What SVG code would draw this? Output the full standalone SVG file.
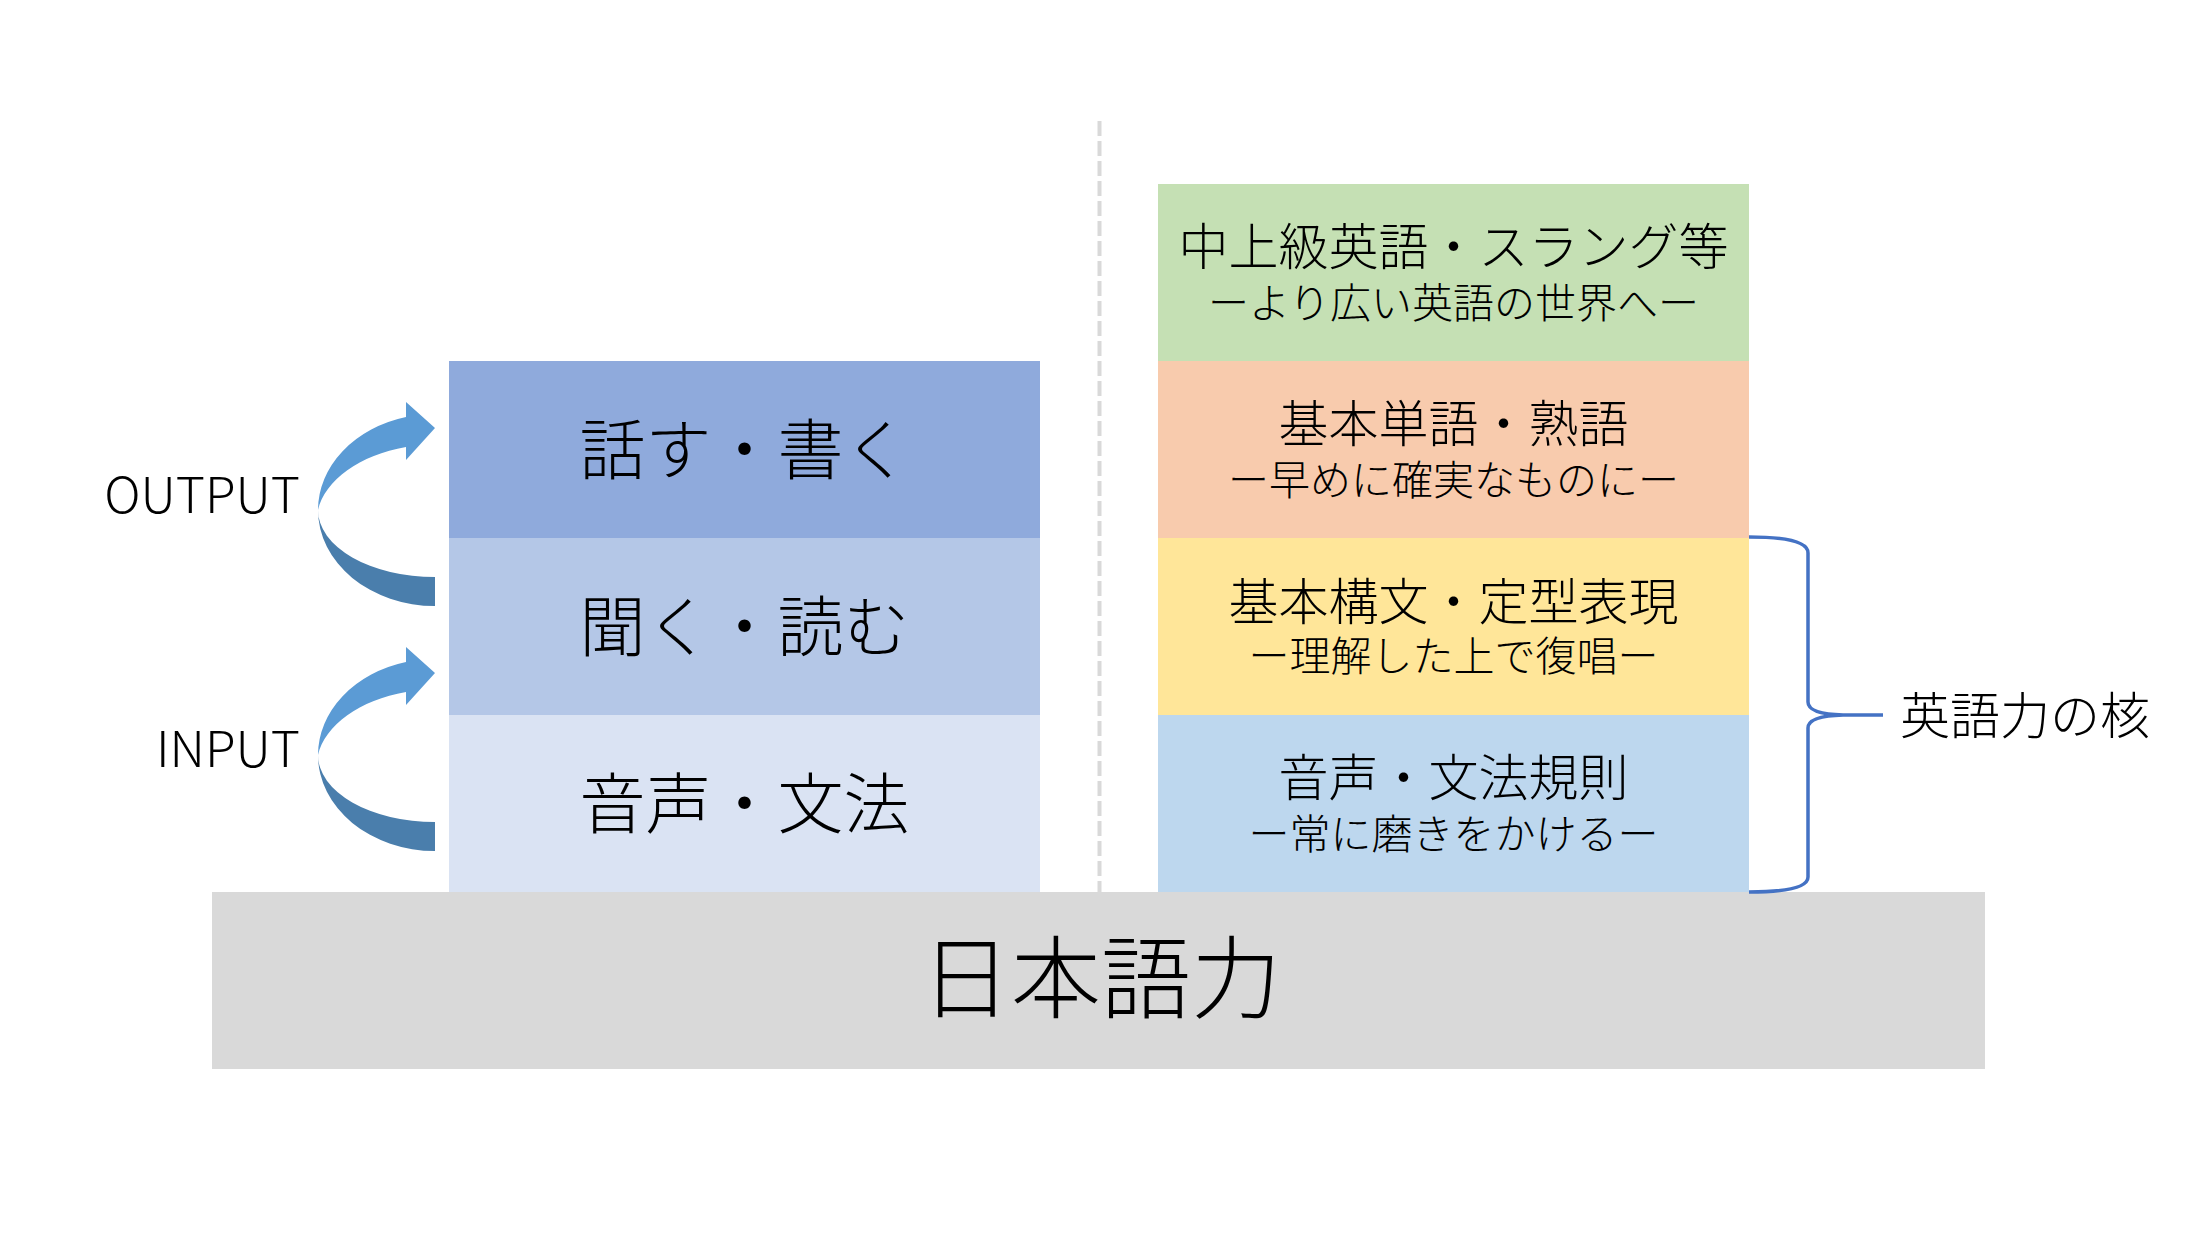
<svg xmlns="http://www.w3.org/2000/svg" width="2203" height="1237" viewBox="0 0 2203 1237">
  <style>
    text { font-family: "Noto Sans CJK JP", "Noto Sans", sans-serif; font-weight: 300; fill: #000; }
    .left { font-size: 66px; text-anchor: middle; }
    .main { font-size: 50px; text-anchor: middle; }
    .sub { font-size: 41px; text-anchor: middle; }
    .lbl { font-size: 50px; text-anchor: end; }
    .light { fill: #5b9bd5; }
    .dark { fill: #4a7eac; }
  </style>
  <defs>
    <g id="curvedArrow">
      <path class="dark" d="M435,606 A117,96 0 0 1 318,510 A117,67 0 0 0 435,577 Z"/>
      <path class="light" d="M318,510 A117,96 0 0 1 406,417 L406,402 L435,428 L406,460 L406,447 C360,455 325,480 318,510 Z"/>
    </g>
  </defs>
  <rect width="2203" height="1237" fill="#ffffff"/>

  <g id="base">
    <rect x="212" y="892" width="1773" height="177" fill="#d9d9d9"/>
    <text x="1101" y="1011" style="font-size:90px;text-anchor:middle">日本語力</text>
  </g>

  <g id="left-speak-write">
    <rect x="449" y="361" width="591" height="177" fill="#8faadc"/>
    <text class="left" x="744.5" y="474">話す・書く</text>
  </g>
  <g id="left-listen-read">
    <rect x="449" y="538" width="591" height="177" fill="#b4c7e7"/>
    <text class="left" x="744.5" y="651">聞く・読む</text>
  </g>
  <g id="left-sound-grammar">
    <rect x="449" y="715" width="591" height="177" fill="#dae3f3"/>
    <text class="left" x="744.5" y="828">音声・文法</text>
  </g>

  <g id="right-advanced">
    <rect x="1158" y="184" width="591" height="177" fill="#c5e0b4"/>
    <text class="main" x="1453.5" y="265">中上級英語・スラング等</text>
    <text class="sub" x="1453.5" y="318">ーより広い英語の世界へー</text>
  </g>
  <g id="right-vocab">
    <rect x="1158" y="361" width="591" height="177" fill="#f8cbad"/>
    <text class="main" x="1453.5" y="442">基本単語・熟語</text>
    <text class="sub" x="1453.5" y="495">ー早めに確実なものにー</text>
  </g>
  <g id="right-syntax">
    <rect x="1158" y="538" width="591" height="177" fill="#ffe699"/>
    <text class="main" x="1453.5" y="620">基本構文・定型表現</text>
    <text class="sub" x="1453.5" y="671">ー理解した上で復唱ー</text>
  </g>
  <g id="right-sound-rules">
    <rect x="1158" y="715" width="591" height="177" fill="#bdd7ee"/>
    <text class="main" x="1453.5" y="796">音声・文法規則</text>
    <text class="sub" x="1453.5" y="849">ー常に磨きをかけるー</text>
  </g>

  <g id="output-arrow">
    <use href="#curvedArrow"/>
    <text class="lbl" x="300" y="513">OUTPUT</text>
  </g>
  <g id="input-arrow">
    <use href="#curvedArrow" transform="translate(0,245)"/>
    <text class="lbl" x="300" y="767">INPUT</text>
  </g>

  <g id="core-label">
    <text x="1900" y="734" style="font-size:50px">英語力の核</text>
  </g>

  <g id="connectors">
    <line x1="1099.5" y1="121" x2="1099.5" y2="892" stroke="#d9d9d9" stroke-width="4" stroke-dasharray="15 5"/>
    <path d="M1749,537 Q1808,537 1808,553 L1808,702 Q1808,714 1843,715 L1883,715 M1843,715 Q1808,716 1808,728 L1808,877 Q1808,892 1749,892" fill="none" stroke="#4472c4" stroke-width="3.5"/>
  </g>
</svg>
